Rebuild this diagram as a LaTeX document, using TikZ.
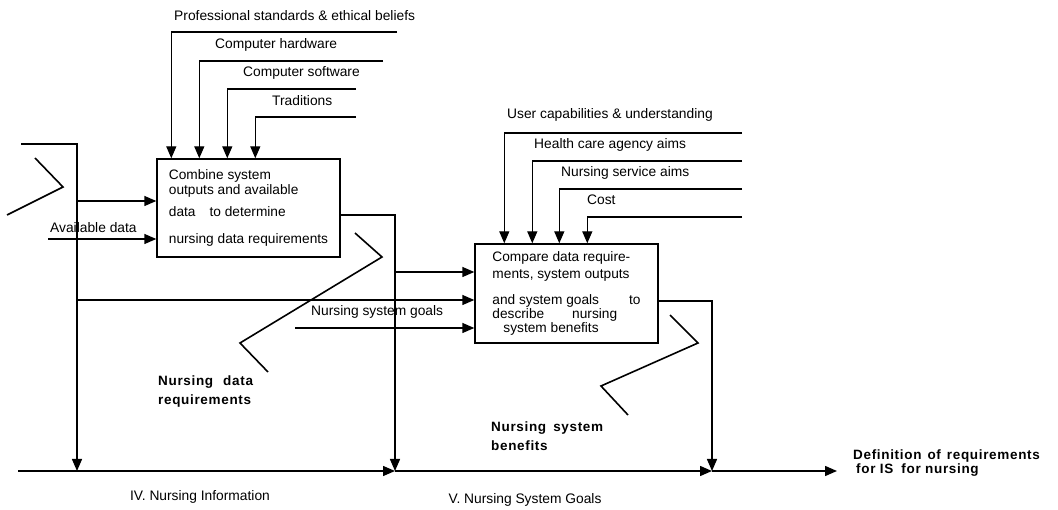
\documentclass[tikz,border=0pt]{standalone}
\usepackage{fontspec}
\setmainfont{Liberation Sans}
\newfontfamily\spacedsans[LetterSpace=5]{Liberation Sans}
\usetikzlibrary{arrows.meta,calc}

\begin{document}
\begin{tikzpicture}[
  x=1pt, y=-1pt,
  font=\fontsize{13.8}{16}\selectfont,
  every node/.style={inner sep=0pt},
  box/.style={
    draw=black, line width=1.4pt, align=left,
    font=\fontsize{13.7}{14}\selectfont,
  },
  flow/.style={-{Triangle[length=12pt, width=10pt]}, line width=1.4pt, draw=black},
  squig/.style={line width=1.6pt, draw=black},
  lbl/.style={anchor=west},
  blbl/.style={anchor=west, align=left,
    font=\fontsize{13.5}{19}\spacedsans\bfseries},
]
\useasboundingbox (0,0) rectangle (1058,510);

% ===== ACTIVITY BOXES =====
\node[box, minimum width=183pt, minimum height=98pt] (combine) at (248.5, 208) {%
  Combine system\\[1pt]
  outputs and available\\[8pt]
  data\hspace{14pt}to determine\\[13pt]
  nursing data requirements};
\node[box, minimum width=183pt, minimum height=99pt] (compare) at (566.5, 293.5) {%
  Compare data require-\\[3pt]
  ments, system outputs\\[12pt]
  and system goals\hspace{30pt}to\\
  describe\hspace{28pt}nursing\\
  \hspace{11pt}system benefits};

% ===== FREE ENDS =====
\coordinate (pse) at (397,32);
\coordinate (hw)  at (383,61);
\coordinate (sw)  at (356,89);
\coordinate (trd) at (356,117);
\coordinate (usr) at (742,133);
\coordinate (hca) at (742,161);
\coordinate (nsa) at (742,189);
\coordinate (cst) at (742,217);
\coordinate (lt)  at (21,144);
\coordinate (lc)  at (77,144);
\coordinate (lb1) at (77,201);
\coordinate (avl) at (48,239);
\coordinate (o1)  at (395,215);
\coordinate (i21) at (395,272);
\coordinate (i22) at (77,300);
\coordinate (i23) at (295,328);
\coordinate (o2)  at (712,301);
\coordinate (bl)  at (18,471);
\coordinate (j0)  at (77,471);
\coordinate (j1)  at (395,471);
\coordinate (j2)  at (712,471);
\coordinate (fin) at (837,471);

% ===== CONTROLS: combine =====
\draw[flow] (pse) -| ($(combine.north west)+(15,0)$);
\draw[flow] (hw)  -| ($(combine.north west)+(43,0)$);
\draw[flow] (sw)  -| ($(combine.north west)+(71,0)$);
\draw[flow] (trd) -| ($(combine.north west)+(99,0)$);
\node[lbl] (pselbl) at (174,16)  {Professional standards \& ethical beliefs};
\node[lbl] (hwlbl)  at (215,45)  {Computer hardware};
\node[lbl] (swlbl)  at (243,73)  {Computer software};
\node[lbl] (trdlbl) at (272,101) {Traditions};

% ===== CONTROLS: compare =====
\draw[flow] (usr) -| ($(compare.north west)+(30,0)$);
\draw[flow] (hca) -| ($(compare.north west)+(58,0)$);
\draw[flow] (nsa) -| ($(compare.north west)+(85,0)$);
\draw[flow] (cst) -| ($(compare.north west)+(113,0)$);
\node[lbl] (usrlbl) at (507,115) {User capabilities \& understanding};
\node[lbl] (hcalbl) at (534,145) {Health care agency aims};
\node[lbl] (nsalbl) at (561,173) {Nursing service aims};
\node[lbl] (cstlbl) at (587,200) {Cost};

% ===== INPUTS =====
\node[lbl] (avllbl) at (50,228) {Available data};
\draw[flow] (lt) -- (lc) -- (j0);
\draw[flow] (lb1) -- (lb1 -| combine.west);
\draw[flow] (avl) -- (avl -| combine.west);
\draw[flow] (i21) -- (i21 -| compare.west);
\draw[flow] (i22) -- (i22 -| compare.west);
\draw[flow] (i23) -- (i23 -| compare.west);
\node[lbl] (goallbl) at (311,312) {Nursing system goals};

% ===== OUTPUTS =====
\draw[flow] (combine.east |- o1) -- (o1) -- (j1);
\draw[flow] (compare.east |- o2) -- (o2) -- (j2);

% ===== BOTTOM LINE =====
\draw[flow] (bl) -- (j1);
\draw[flow] (j1) -- (j2);
\draw[flow] (j2) -- (fin);
\node (ivlbl) at (200,497) {IV. Nursing Information};
\node (vlbl)  at (525,500) {V. Nursing System Goals};
\node[blbl, font=\fontsize{13.5}{14}\spacedsans\bfseries] (deflbl) at (853,463)
  {Definition\hspace{6pt}of\hspace{6pt}requirements\\\hspace{3pt}for IS\hspace{8pt}for nursing};

% ===== SQUIGGLES =====
\draw[squig] (35,158) -- (63,187) -- (7,215);
\draw[squig] (355,233) -- (382,257) -- (240,343) -- (268,372);
\draw[squig] (670,315) -- (698,343) -- (601,386) -- (628,415);
\node[blbl] (ndrlbl) at (158,392) {Nursing\hspace{10pt}data\\requirements};
\node[blbl] (nsblbl) at (491,436) {Nursing\hspace{7pt}system\\benefits};

\end{tikzpicture}
\end{document}
